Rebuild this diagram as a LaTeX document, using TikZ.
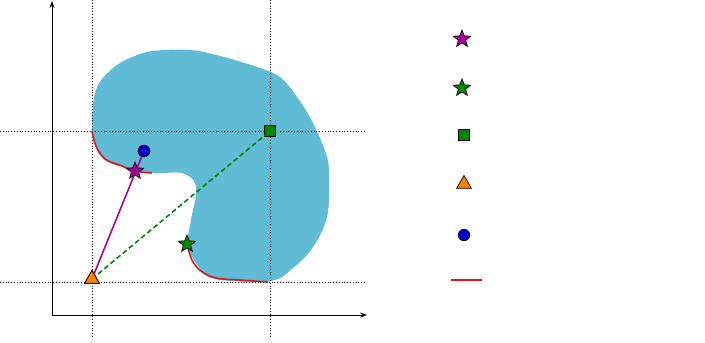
\documentclass[tikz,border=0pt]{standalone}
\usepackage{tikz}
\usetikzlibrary{
  arrows.meta,
  positioning,
  shapes.geometric
}
\usepackage{xcolor}
\definecolor{blobcyan}{RGB}{96,187,212}
\definecolor{curvered}{RGB}{230,20,20}
\definecolor{starmagenta}{RGB}{170,0,150}
\definecolor{markgreen}{RGB}{0,135,0}
\definecolor{markorange}{RGB}{255,130,0}
\definecolor{markblue}{RGB}{0,0,210}

\begin{document}
\begin{tikzpicture}[x=1pt, y=-1pt,
  starmark/.style={star, star points=5, star point ratio=2.3, draw=black,
                   fill=#1, inner sep=0pt, minimum size=18pt, line width=0.7pt},
  squaremark/.style={rectangle, draw=black, fill=#1, inner sep=0pt,
                     minimum size=11.5pt, line width=0.7pt},
  trimark/.style={regular polygon, regular polygon sides=3, draw=black, fill=#1,
                  inner sep=0pt, minimum size=17pt, line width=0.7pt},
  dotmark/.style={circle, draw=black, fill=#1, inner sep=0pt,
                  minimum size=11.5pt, line width=0.7pt},
  guide/.style={dotted, line width=0.8pt},
  axis/.style={-{Stealth[length=7pt, width=5pt]}, line width=0.7pt}
]
  \useasboundingbox (0,0) rectangle (705,343);

  % Region
  \fill[blobcyan] plot[smooth cycle, tension=0.6] coordinates {
    (92,131) (93,105) (98,85) (113,68) (130,58) (153,51) (190,50) (220,56)
    (257,67) (280,77) (297,97) (313,123) (327,157) (329,180) (327,217)
    (313,247) (293,268) (270,281) (215,279) (198,266) (188,245) (191,220)
    (196,195) (194,181) (182,173) (163,173) (152,173) (123,167) (105,160)
    (96,146)};

  % Guide lines
  \draw[guide] (92,0) -- (92,338);
  \draw[guide] (270,0) -- (270,338);
  \draw[guide] (0,131) -- (366,131);
  \draw[guide] (0,282) -- (366,282);

  % Axes
  \draw[axis] (52,315) -- (52,1);
  \draw[axis] (52,315) -- (367,315);

  % Boundary curves
  \draw[curvered, line width=1.6pt] plot[smooth, tension=0.6] coordinates {
    (92,131) (96,146) (105,159) (122,166) (135,171) (152,173)};
  \draw[curvered, line width=1.6pt] plot[smooth, tension=0.6] coordinates {
    (187,244) (192,260) (201,271) (216,278) (240,280) (268,282)};

  % Points
  \node[trimark=markorange] (T) at (92,279) {};
  \node[squaremark=markgreen] (S) at (270,131) {};
  \node[dotmark=markblue] (C) at (144,151) {};

  % Segments
  \draw[starmagenta, line width=1.6pt] (T.center) -- (C.center);
  \draw[markgreen, dash pattern=on 5pt off 3pt, line width=1.6pt] (T.center) -- (S.center);

  \node[starmark=starmagenta] (M) at (135,171) {};
  \node[starmark=markgreen] (G) at (187,244) {};
  \node[trimark=markorange] at (T) {};
  \node[dotmark=markblue] at (C) {};

  % Legend
  \node[starmark=starmagenta] (L1) at (462,39) {};
  \node[starmark=markgreen] (L2) at (462,88) {};
  \node[squaremark=markgreen] (L3) at (464,135) {};
  \node[trimark=markorange] (L4) at (464,184) {};
  \node[dotmark=markblue] (L5) at (464,235) {};
  \coordinate (L6a) at (451,280);
  \coordinate (L6b) at (482,280);
  \draw[curvered, line width=1.6pt] (L6a) -- (L6b);
\end{tikzpicture}
\end{document}
